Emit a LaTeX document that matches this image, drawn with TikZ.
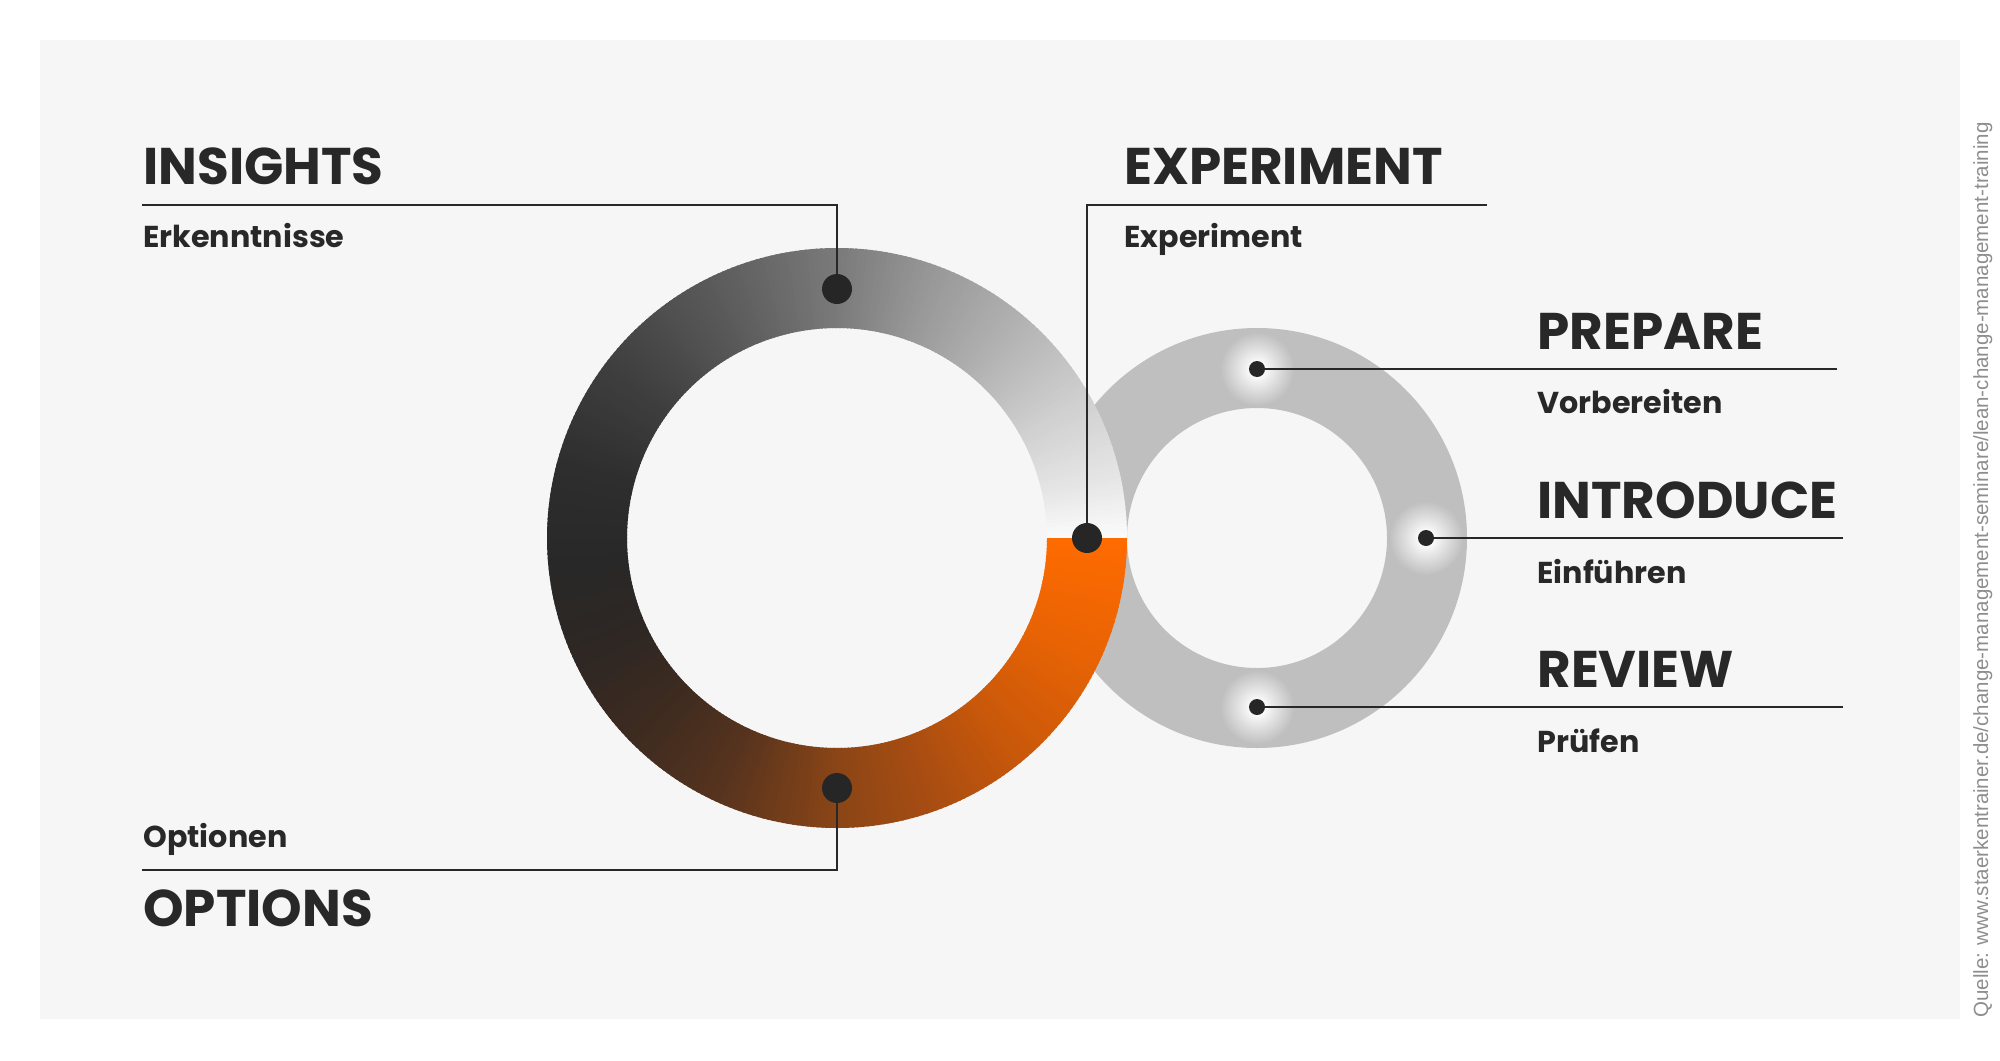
\documentclass[tikz,border=0pt]{standalone}
\usepackage{fontspec}
\newfontfamily\popf{Poppins}
\newfontfamily\qf{Liberation Sans}
\usetikzlibrary{calc}
\definecolor{panel}{HTML}{F6F6F6}
\definecolor{ink}{HTML}{282828}
\definecolor{dotc}{HTML}{262626}
\definecolor{ringgray}{HTML}{BFBFBF}
\definecolor{quellec}{HTML}{8E8E8E}
\pgfdeclareradialshading{halo}{\pgfpointorigin}{color(0bp)=(white); color(5bp)=(white!92!ringgray); color(15bp)=(white!45!ringgray); color(25bp)=(ringgray); color(50bp)=(ringgray)}
\begin{document}
\begin{tikzpicture}[x=0.5pt, y=0.5pt,
  title/.style={font=\popf\bfseries\fontsize{25.8}{30}\selectfont, text=ink, inner sep=0pt, anchor=base west},
  sub/.style={font=\popf\bfseries\fontsize{15.1}{18}\selectfont, text=ink, inner sep=0pt, anchor=base west},
  conn/.style={draw=ink, line width=1pt},
  bigdot/.style={circle, fill=dotc, minimum size=15pt, inner sep=0pt},
  smalldot/.style={circle, fill=dotc, minimum size=8pt, inner sep=0pt},
  srcstyle/.style={font=\qf\fontsize{10.25}{12}\selectfont, text=quellec, inner sep=0pt, anchor=base west, rotate=90}]
\fill[white] (0,0) rectangle (2000,-1060);
\useasboundingbox (0,0) rectangle (2000,-1060);
\fill[panel] (40,-40) rectangle (1960,-1019);
% small ring
\fill[ringgray, even odd rule] (1257,-538) circle[radius=210] (1257,-538) circle[radius=130];
\shade[shading=halo] (1257,-369) circle[radius=37];
\shade[shading=halo] (1426,-538) circle[radius=37];
\shade[shading=halo] (1257,-707) circle[radius=37];
% big ring with angular gradient
\begin{scope}[shift={(837,-538)}]
\foreach \a/\b/\ca/\cb in {0/12/FBFBFB/E6E6E6, 12/30/E6E6E6/CFCFCF, 30/50/CFCFCF/B2B2B2, 50/70/B2B2B2/989898, 70/90/989898/7A7A7A, 90/115/7A7A7A/5C5C5C, 115/140/5C5C5C/414141, 140/165/414141/2E2E2E, 165/185/2E2E2E/282828, 185/205/282828/2E2724, 205/225/2E2724/3E2B20, 225/245/3E2B20/56331E, 245/270/56331E/8A4516, 270/290/8A4516/A84D12, 290/310/A84D12/C9580A, 310/335/C9580A/E86304, 335/360/E86304/FF6B00}{
  \definecolor{ca}{HTML}{\ca}\definecolor{cb}{HTML}{\cb}
  \pgfmathtruncatemacro\e{\b-1}
  \foreach \t in {\a,...,\e}{
    \pgfmathsetmacro\p{(\t+0.5-\a)/(\b-\a)*100}
    \pgfmathsetmacro\en{min(\t+1.4,360)}
    \colorlet{segc}{cb!\p!ca}
    \fill[segc] (\t:290) arc[start angle=\t, end angle=\en, radius=290] -- (\en:210) arc[start angle=\en, end angle=\t, radius=210] -- cycle;
  }
}
\end{scope}
% dots
\node[bigdot] (dIns) at (837,-289) {};
\node[bigdot] (dExp) at (1087,-538) {};
\node[bigdot] (dOpt) at (837,-788) {};
\node[smalldot] (dPre) at (1257,-369) {};
\node[smalldot] (dInt) at (1426,-538) {};
\node[smalldot] (dRev) at (1257,-707) {};
% corner coordinates
\coordinate (insL) at (142,-205);
\coordinate (insC) at (837,-205);
\coordinate (expC) at (1087,-205);
\coordinate (expR) at (1487,-205);
\coordinate (optL) at (142,-870);
\coordinate (optC) at (837,-870);
\coordinate (preR) at (1837,-369);
\coordinate (intR) at (1843,-538);
\coordinate (revR) at (1843,-707);
% connectors
\draw[conn] (insL) -- (insC) -- (dIns);
\draw[conn] (expR) -- (expC) -- (dExp);
\draw[conn] (optL) -- (optC) -- (dOpt);
\draw[conn] (dPre) -- (preR);
\draw[conn] (dInt) -- (intR);
\draw[conn] (dRev) -- (revR);
% texts
\node[title] (tIns) at (143,-184) {INSIGHTS};
\node[sub] (sIns) at (143,-247) {Erkenntnisse};
\node[title] (tExp) at (1124,-184) {EXPERIMENT};
\node[sub] (sExp) at (1124,-247) {Experiment};
\node[title] (tPre) at (1537,-349) {PREPARE};
\node[sub] (sPre) at (1537,-413) {Vorbereiten};
\node[title] (tInt) at (1537,-518) {INTRODUCE};
\node[sub] (sInt) at (1537,-583) {Einführen};
\node[title] (tRev) at (1537,-687) {REVIEW};
\node[sub] (sRev) at (1537,-752) {Prüfen};
\node[sub] (sOpt) at (143,-847) {Optionen};
\node[title] (tOpt) at (143,-926) {OPTIONS};
\node[srcstyle] (src) at (1988,-1018) {Quelle: www.staerkentrainer.de/change-management-seminare/lean-change-management-training};
\end{tikzpicture}
\end{document}
